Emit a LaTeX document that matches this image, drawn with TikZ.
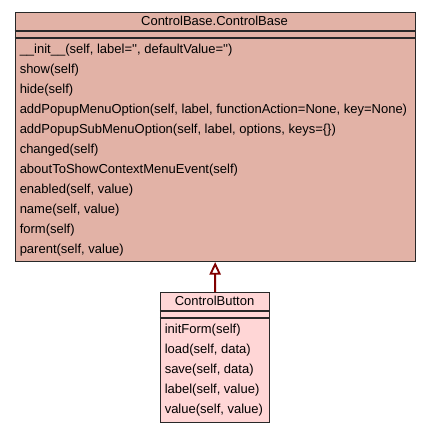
\documentclass[tikz,border=0pt]{standalone}
\usepackage{fontspec}
\newfontfamily\umlfont{Liberation Sans}
\usetikzlibrary{arrows.meta}
\definecolor{basefill}{RGB}{226,178,166}
\definecolor{subfill}{RGB}{255,214,214}
\definecolor{edgecol}{RGB}{40,40,40}
\definecolor{inhcol}{RGB}{128,0,0}
\tikzset{
  classbox/.style={draw=edgecol, line width=1pt, inner sep=0pt, anchor=north west},
  sepline/.style={draw=edgecol, line width=1pt},
  txt/.style={inner sep=0pt, font=\umlfont\fontsize{9.75}{11.7}\selectfont},
  meth/.style={txt, anchor=base west},
  title/.style={txt, anchor=base},
  inherit/.style={draw=inhcol, line width=1.6pt,
    -{Triangle[open, length=9.5pt, width=8.5pt, line width=1.4pt]}},
}
\begin{document}
\begin{tikzpicture}[x=0.75pt, y=-0.75pt]
\useasboundingbox[fill=white] (0,0) rectangle (429,432);

% ControlBase.ControlBase
\node[classbox, fill=basefill, minimum width=300pt, minimum height=186.5pt] (cb) at (14.5,12) {};
\draw[sepline] (cb.west |- 0,31) -- (cb.east |- 0,31);
\draw[sepline] (cb.west |- 0,38) -- (cb.east |- 0,38);
\node[title] (cbt) at (214.5,25.5) {ControlBase.ControlBase};
\node[meth] (cb1)  at (19.5,53)  {\_\_init\_\_(self, label='', defaultValue='')};
\node[meth] (cb2)  at (19.5,73)  {show(self)};
\node[meth] (cb3)  at (19.5,93)  {hide(self)};
\node[meth] (cb4)  at (19.5,113) {addPopupMenuOption(self, label, functionAction=None, key=None)};
\node[meth] (cb5)  at (19.5,133) {addPopupSubMenuOption(self, label, options, keys=\{\})};
\node[meth] (cb6)  at (19.5,153) {changed(self)};
\node[meth] (cb7)  at (19.5,173) {aboutToShowContextMenuEvent(self)};
\node[meth] (cb8)  at (19.5,193) {enabled(self, value)};
\node[meth] (cb9)  at (19.5,213) {name(self, value)};
\node[meth] (cb10) at (19.5,233) {form(self)};
\node[meth] (cb11) at (19.5,253) {parent(self, value)};

% ControlButton
\node[classbox, fill=subfill, minimum width=82pt, minimum height=97.5pt] (cbtn) at (159.75,292) {};
\draw[sepline] (cbtn.west |- 0,311) -- (cbtn.east |- 0,311);
\draw[sepline] (cbtn.west |- 0,318) -- (cbtn.east |- 0,318);
\node[title] (cbtnt) at (214.5,305) {ControlButton};
\node[meth] (cbtn1) at (164.5,333) {initForm(self)};
\node[meth] (cbtn2) at (164.5,353) {load(self, data)};
\node[meth] (cbtn3) at (164.5,373) {save(self, data)};
\node[meth] (cbtn4) at (164.5,393) {label(self, value)};
\node[meth] (cbtn5) at (164.5,413) {value(self, value)};

% inheritance
\draw[inherit] (cbtn.north) -- (cb.south);
\end{tikzpicture}
\end{document}
